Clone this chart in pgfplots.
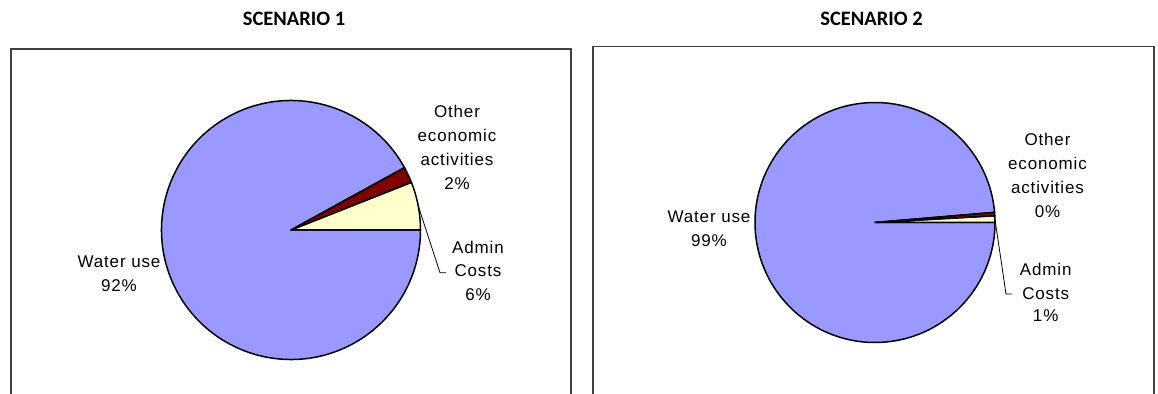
\documentclass[border=0pt]{standalone}
\usepackage{fontspec}
\setmainfont{Liberation Sans}
\newfontfamily\labelfont[LetterSpace=5]{Liberation Sans}
\newfontfamily\titlefont{Carlito}
\usepackage{pgfplots}
\usepackage{pgfplotstable}
\pgfplotsset{compat=1.18}

\definecolor{wateruse}{HTML}{9999FF}
\definecolor{admincost}{HTML}{FFFFCC}
\definecolor{otherecon}{HTML}{800000}
\definecolor{framegray}{HTML}{404040}

% shares of total cost, in percent
\pgfplotstableread{
share value
Admin 6
Other 2
Water 92
}\scenarioone
\pgfplotstableread{
share value
Admin 0.9
Other 0.45
Water 98.65
}\scenariotwo

% pie with admin from 0 deg, then other, then water use (cx, cy, r, end of admin, end of other)
\newcommand{\drawpie}[5]{%
  \filldraw[fill=wateruse, draw=black, line width=1.5bp, line join=round]
    (axis cs:#1,#2) -- ++(#5:#3) arc[start angle=#5, end angle=360, radius=#3] -- cycle;
  \filldraw[fill=admincost, draw=black, line width=1.5bp, line join=round]
    (axis cs:#1,#2) -- ++(0:#3) arc[start angle=0, end angle=#4, radius=#3] -- cycle;
  \filldraw[fill=otherecon, draw=black, line width=1.5bp, line join=round]
    (axis cs:#1,#2) -- ++(#4:#3) arc[start angle=#4, end angle=#5, radius=#3] -- cycle;
}

\pgfplotsset{
  piebox/.style={
    anchor=south west, x=1bp, y=1bp,
    xtick=\empty, ytick=\empty, clip=false,
    axis line style={draw=framegray, line width=1.4bp},
  },
}
\tikzset{
  lbl/.style={anchor=base, inner sep=0pt,
    font=\labelfont\fontsize{17bp}{24bp}\selectfont},
  ttl/.style={anchor=base, inner sep=0pt,
    font=\titlefont\bfseries\fontsize{20.5bp}{24bp}\selectfont},
}

\begin{document}
\begin{tikzpicture}
\useasboundingbox (0,0) rectangle (1158bp,394bp);

\pgfplotstablegetelem{0}{value}\of\scenarioone
\pgfmathsetmacro{\oneA}{3.6*\pgfplotsretval}
\pgfplotstablegetelem{1}{value}\of\scenarioone
\pgfmathsetmacro{\oneB}{\oneA+3.6*\pgfplotsretval}
\pgfmathsetmacro{\oneM}{\oneA/2}
\pgfplotstablegetelem{0}{value}\of\scenariotwo
\pgfmathsetmacro{\twoA}{3.6*\pgfplotsretval}
\pgfplotstablegetelem{1}{value}\of\scenariotwo
\pgfmathsetmacro{\twoB}{\twoA+3.6*\pgfplotsretval}
\pgfmathsetmacro{\twoM}{\twoA/2}

% Scenario 1
\begin{axis}[piebox, at={(11bp,-10bp)}, xmin=11, xmax=571, ymin=-10, ymax=345]
  \drawpie{291}{164}{129.5bp}{\oneA}{\oneB}
  \draw[line width=0.8bp] (axis cs:291,164) ++(\oneM:129.5bp)
    -- (axis cs:440,121.3) -- (axis cs:446,121.3);
  \node[ttl] at (axis cs:294,368.3) {SCENARIO 1};
  \node[lbl] at (axis cs:457,276.7) {Other};
  \node[lbl] at (axis cs:457,252.8) {economic};
  \node[lbl] at (axis cs:457,229) {activities};
  \node[lbl] at (axis cs:457,204.7) {2\%};
  \node[lbl] at (axis cs:478,140.7) {Admin};
  \node[lbl] at (axis cs:478,117.3) {Costs};
  \node[lbl] at (axis cs:478,94) {6\%};
  \node[lbl] at (axis cs:119,127) {Water use};
  \node[lbl] at (axis cs:119,102.5) {92\%};
\end{axis}

% Scenario 2
\begin{axis}[piebox, at={(593bp,-10bp)}, xmin=593, xmax=1154, ymin=-10, ymax=347.3]
  \drawpie{875}{171.5}{120bp}{\twoA}{\twoB}
  \draw[line width=0.8bp] (axis cs:875,171.5) ++(\twoM:120bp)
    -- (axis cs:1006,100) -- (axis cs:1012,100);
  \node[ttl] at (axis cs:871.5,368.3) {SCENARIO 2};
  \node[lbl] at (axis cs:1047.5,248.3) {Other};
  \node[lbl] at (axis cs:1047.5,224.5) {economic};
  \node[lbl] at (axis cs:1047.5,200.5) {activities};
  \node[lbl] at (axis cs:1047.5,176.7) {0\%};
  \node[lbl] at (axis cs:1045.7,119) {Admin};
  \node[lbl] at (axis cs:1045.7,95) {Costs};
  \node[lbl] at (axis cs:1045.7,72.3) {1\%};
  \node[lbl] at (axis cs:709,171.3) {Water use};
  \node[lbl] at (axis cs:709,147.3) {99\%};
\end{axis}
\end{tikzpicture}
\end{document}
